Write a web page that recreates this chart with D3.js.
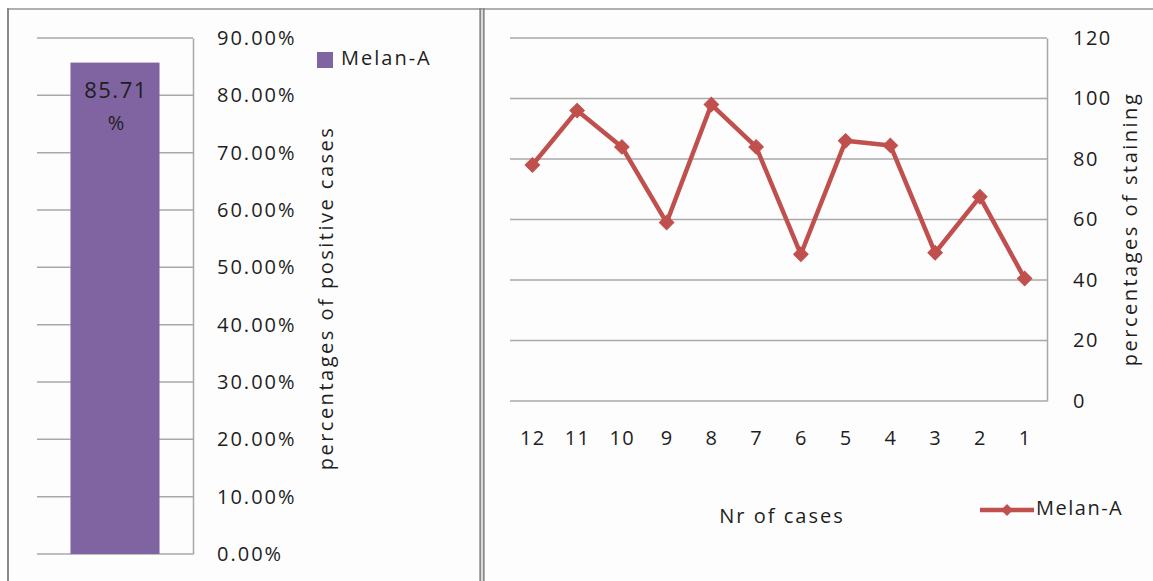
<!DOCTYPE html>
<html>
<head>
<meta charset="utf-8">
<script src="https://cdn.jsdelivr.net/npm/d3@7"></script>
<style>
  html, body { margin: 0; padding: 0; background: #ffffff; }
  svg { display: block; font-family: "Open Sans", "Noto Sans", sans-serif; }
  text { fill: #1e1e1e; }
</style>
</head>
<body>
<svg id="chart" width="1153" height="581"></svg>
<script>
// Share of positive cases (bar panel)
const barCategories = ["Melan-A"];
const barValues = [0.8571];
const barTicks = [0, 0.1, 0.2, 0.3, 0.4, 0.5, 0.6, 0.7, 0.8, 0.9];

// Staining percentage per case (line panel)
const caseLabels = ["12", "11", "10", "9", "8", "7", "6", "5", "4", "3", "2", "1"];
const stainingValues = [78, 96, 84, 59, 98, 84, 48.5, 86, 84.5, 49, 67.5, 40.5];
const stainingTicks = [0, 20, 40, 60, 80, 100, 120];

const seriesName = "Melan-A";
const barColor = "#8064a2";
const lineColor = "#c0504d";
const gridColor = "#a9a9a9";
const textColor = "#1e1e1e";

const svg = d3.select("#chart");

// panel frames
const frame = svg.append("g").attr("fill", "none");
frame.append("rect").attr("x", 8).attr("y", 9).attr("width", 1145).attr("height", 572).attr("fill", "#fdfdfd").attr("stroke", "none");
frame.append("line").attr("x1", 7).attr("x2", 1153).attr("y1", 9).attr("y2", 9).attr("stroke", "#969696").attr("stroke-width", 1.6);
frame.append("line").attr("x1", 8).attr("x2", 8).attr("y1", 8).attr("y2", 581).attr("stroke", "#8a8a8a").attr("stroke-width", 2);
frame.append("line").attr("x1", 480.3).attr("x2", 480.3).attr("y1", 8).attr("y2", 581).attr("stroke", "#8a8a8a").attr("stroke-width", 2);
frame.append("line").attr("x1", 483.7).attr("x2", 483.7).attr("y1", 8).attr("y2", 581).attr("stroke", "#8a8a8a").attr("stroke-width", 2);

// ---------- bar panel ----------
const yL = d3.scaleLinear().domain([0, 0.9]).range([554, 38]);
const xL = d3.scaleBand().domain(barCategories).range([37, 193]).paddingInner(0).paddingOuter(0.376);

const left = svg.append("g");
left.append("g").selectAll("line").data(barTicks).join("line")
  .attr("x1", 37).attr("x2", 193)
  .attr("y1", d => yL(d)).attr("y2", d => yL(d))
  .attr("stroke", gridColor).attr("stroke-width", 1.5);

const axisL = d3.axisRight(yL).tickValues(barTicks).tickFormat(d3.format(".2%"))
  .tickSize(0).tickPadding(24);
const gAxisL = left.append("g").attr("transform", "translate(193,0)").call(axisL);
gAxisL.select(".domain").attr("stroke", gridColor).attr("stroke-width", 1.5);
gAxisL.selectAll("text").attr("font-size", 20).attr("letter-spacing", "2px")
  .attr("font-family", "Open Sans").attr("fill", textColor);

left.append("g").selectAll("rect").data(barValues).join("rect")
  .attr("x", (d, i) => xL(barCategories[i]))
  .attr("width", xL.bandwidth())
  .attr("y", d => yL(d))
  .attr("height", d => yL(0) - yL(d))
  .attr("fill", barColor);

// value label wrapped inside the top of the bar
barValues.forEach((v, i) => {
  const cx = xL(barCategories[i]) + xL.bandwidth() / 2 + 1;
  const top = yL(v);
  const parts = [d3.format(".2f")(v * 100), "%"];
  left.append("text").attr("x", cx).attr("y", top + 30).attr("text-anchor", "middle")
    .attr("dominant-baseline", "middle").attr("font-size", 22).attr("letter-spacing", "1.5px")
    .text(parts[0]);
  left.append("text").attr("x", cx).attr("y", top + 62).attr("text-anchor", "middle")
    .attr("dominant-baseline", "middle").attr("font-size", 20)
    .text(parts[1]);
});

left.append("text")
  .attr("transform", "translate(333,298) rotate(-90)")
  .attr("text-anchor", "middle").attr("font-size", 20).attr("letter-spacing", "2.5px")
  .text("percentages of positive cases");

// legend
left.append("rect").attr("x", 317).attr("y", 52).attr("width", 16).attr("height", 16).attr("fill", barColor);
left.append("text").attr("x", 341).attr("y", 60).attr("dominant-baseline", "middle")
  .attr("font-size", 20).attr("letter-spacing", "2px").text(seriesName);

// ---------- line panel ----------
const xR = d3.scalePoint().domain(caseLabels).range([510, 1047]).padding(0.5);
const yR = d3.scaleLinear().domain([0, 120]).range([401, 38]);

const right = svg.append("g");
right.append("g").selectAll("line").data(stainingTicks).join("line")
  .attr("x1", 510).attr("x2", 1047)
  .attr("y1", d => yR(d)).attr("y2", d => yR(d))
  .attr("stroke", gridColor).attr("stroke-width", 1.5);

const axisR = d3.axisRight(yR).tickValues(stainingTicks).tickSize(0).tickPadding(26);
const gAxisR = right.append("g").attr("transform", "translate(1047,0)").call(axisR);
gAxisR.select(".domain").attr("stroke", gridColor).attr("stroke-width", 1.5);
gAxisR.selectAll("text").attr("font-size", 20).attr("letter-spacing", "1.5px")
  .attr("font-family", "Open Sans").attr("fill", textColor);

const axisB = d3.axisBottom(xR).tickSize(0).tickPadding(30);
const gAxisB = right.append("g").attr("transform", "translate(0,401)").call(axisB);
gAxisB.select(".domain").remove();
gAxisB.selectAll("text").attr("font-size", 20).attr("letter-spacing", "1.5px")
  .attr("font-family", "Open Sans").attr("fill", textColor);

const line = d3.line().x((d, i) => xR(caseLabels[i])).y(d => yR(d));
right.append("path").datum(stainingValues)
  .attr("d", line).attr("fill", "none").attr("stroke", lineColor)
  .attr("stroke-width", 4.5).attr("stroke-linejoin", "round");

const diamond = d3.symbol().type(d3.symbolSquare).size(105);
right.append("g").selectAll("path").data(stainingValues).join("path")
  .attr("d", diamond)
  .attr("transform", (d, i) => `translate(${xR(caseLabels[i])},${yR(d)}) rotate(45)`)
  .attr("fill", lineColor).attr("stroke", lineColor).attr("stroke-width", 1);

right.append("text")
  .attr("transform", "translate(1137,229) rotate(-90)")
  .attr("text-anchor", "middle").attr("font-size", 20).attr("letter-spacing", "2.5px")
  .text("percentages of staining");

right.append("text").attr("x", 782).attr("y", 518).attr("text-anchor", "middle")
  .attr("dominant-baseline", "middle").attr("font-size", 20).attr("letter-spacing", "2px")
  .text("Nr of cases");

// legend
right.append("line").attr("x1", 980).attr("x2", 1034).attr("y1", 510).attr("y2", 510)
  .attr("stroke", lineColor).attr("stroke-width", 4.5);
right.append("path").attr("d", d3.symbol().type(d3.symbolSquare).size(72))
  .attr("transform", "translate(1007,510) rotate(45)").attr("fill", lineColor);
right.append("text").attr("x", 1036).attr("y", 510).attr("dominant-baseline", "middle")
  .attr("font-size", 20).attr("letter-spacing", "1.5px").text(seriesName);
</script>
</body>
</html>
